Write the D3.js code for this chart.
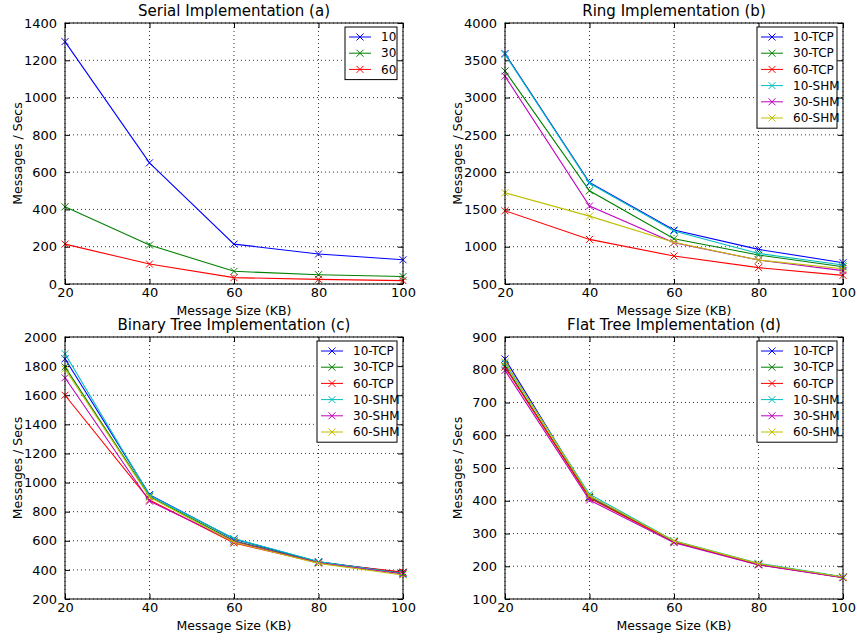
<!DOCTYPE html>
<html lang="en">
<head>
<meta charset="UTF-8">
<title>Implementations</title>
<script src="https://d3js.org/d3.v7.min.js"></script>
<style>
  body { margin: 0; background: #fff; }
  svg text { font-family: "DejaVu Sans", sans-serif; fill: #000; }
</style>
</head>
<body>
<svg id="chart" width="857" height="643"></svg>
<script>
// data
const messageSizes = [20, 40, 60, 80, 100];

const serialNames = ["10", "30", "60"];
const serialValues = [
  [1300, 650, 214, 161, 130],
  [414, 209, 68, 50, 40],
  [214, 107, 34, 25, 18]
];

const implNames = ["10-TCP", "30-TCP", "60-TCP", "10-SHM", "30-SHM", "60-SHM"];

const ringValues = [
  [3590, 1862, 1223, 964, 786],
  [3357, 1750, 1107, 888, 732],
  [1482, 1098, 875, 719, 616],
  [3580, 1850, 1210, 910, 755],
  [3286, 1545, 1054, 821, 679],
  [1723, 1410, 1060, 821, 705]
];

const binaryValues = [
  [1850, 917, 612, 455, 380],
  [1795, 905, 600, 452, 378],
  [1600, 880, 585, 450, 385],
  [1885, 912, 615, 457, 375],
  [1720, 872, 595, 448, 372],
  [1780, 900, 590, 445, 365]
];

const flatValues = [
  [833, 413, 276, 207, 167],
  [812, 410, 274, 206, 166],
  [808, 408, 275, 205, 166],
  [820, 420, 278, 209, 168],
  [798, 402, 272, 204, 165],
  [824, 415, 277, 208, 167]
];

const xTicks = [20, 40, 60, 80, 100];
const serialTicks = [0, 200, 400, 600, 800, 1000, 1200, 1400];
const ringTicks = [500, 1000, 1500, 2000, 2500, 3000, 3500, 4000];
const binaryTicks = [200, 400, 600, 800, 1000, 1200, 1400, 1600, 1800, 2000];
const flatTicks = [100, 200, 300, 400, 500, 600, 700, 800, 900];

const colors = ["#0000ff", "#008000", "#ff0000", "#00bfbf", "#bf00bf", "#bfbf00"];

const svg = d3.select("#chart");

function drawPanel(opt) {
  const { left, right, top, bottom } = opt.box;
  const x = d3.scaleLinear().domain([20, 100]).range([left, right]);
  const y = d3.scaleLinear().domain(d3.extent(opt.yTicks)).range([bottom, top]);
  const g = svg.append("g");

  // grid
  g.selectAll(".gx").data(xTicks).enter().append("line")
    .attr("x1", d => x(d)).attr("x2", d => x(d))
    .attr("y1", top).attr("y2", bottom)
    .attr("stroke", "#000").attr("stroke-width", 0.8).attr("stroke-dasharray", "1,3");
  g.selectAll(".gy").data(opt.yTicks).enter().append("line")
    .attr("x1", left).attr("x2", right)
    .attr("y1", d => y(d)).attr("y2", d => y(d))
    .attr("stroke", "#000").attr("stroke-width", 0.8).attr("stroke-dasharray", "1,3");

  // axes, ticks inward on every side
  const tl = 5, fmt = d3.format("d");
  g.append("g").attr("transform", `translate(0,${bottom})`)
    .call(d3.axisBottom(x).tickValues(xTicks).tickFormat(fmt).tickSizeInner(-tl).tickSizeOuter(0).tickPadding(4));
  g.append("g").attr("transform", `translate(0,${top})`)
    .call(d3.axisTop(x).tickValues(xTicks).tickSizeInner(-tl).tickSizeOuter(0).tickFormat(""));
  g.append("g").attr("transform", `translate(${left},0)`)
    .call(d3.axisLeft(y).tickValues(opt.yTicks).tickFormat(fmt).tickSizeInner(-tl).tickSizeOuter(0).tickPadding(8));
  g.append("g").attr("transform", `translate(${right},0)`)
    .call(d3.axisRight(y).tickValues(opt.yTicks).tickSizeInner(-tl).tickSizeOuter(0).tickFormat(""));
  g.selectAll(".domain").remove();
  g.selectAll(".tick line").attr("stroke", "#000");
  g.selectAll(".tick text").attr("font-size", 13).attr("font-family", "DejaVu Sans").attr("fill", "#000");

  // lines
  const line = d3.line().x((d, i) => x(messageSizes[i])).y(d => y(d));
  opt.values.forEach((vals, s) => {
    g.append("path").attr("d", line(vals))
      .attr("fill", "none").attr("stroke", colors[s]).attr("stroke-width", 1.1);
    g.selectAll(null).data(vals).enter().append("path")
      .attr("transform", (d, i) => `translate(${x(messageSizes[i])},${y(d)})`)
      .attr("d", "M-3.5,-3.5L3.5,3.5M-3.5,3.5L3.5,-3.5")
      .attr("stroke", colors[s]).attr("stroke-width", 1);
  });

  // frame
  g.append("rect").attr("x", left).attr("y", top)
    .attr("width", right - left).attr("height", bottom - top)
    .attr("fill", "none").attr("stroke", "#000").attr("stroke-width", 1);

  // title and labels
  g.append("text").attr("x", (left + right) / 2).attr("y", top - 7)
    .attr("text-anchor", "middle").attr("font-size", 15).text(opt.title);
  g.append("text").attr("x", (left + right) / 2).attr("y", bottom + 30.5)
    .attr("text-anchor", "middle").attr("font-size", 12.5).text("Message Size (KB)");
  const ly = left - 47, cy = (top + bottom) / 2;
  g.append("text").attr("transform", `translate(${ly},${cy}) rotate(-90)`)
    .attr("text-anchor", "middle").attr("dy", "0.35em").attr("font-size", 12.5).text("Messages / Secs");

  // legend
  const lw = opt.legendWidth, lh = opt.names.length * 16.2 + 4;
  const lx = right - 6 - lw, lyTop = top + 4;
  const leg = g.append("g");
  leg.append("rect").attr("x", lx).attr("y", lyTop).attr("width", lw).attr("height", lh)
    .attr("fill", "#fff").attr("stroke", "#000").attr("stroke-width", 1);
  opt.names.forEach((name, i) => {
    const ry = lyTop + 10 + i * 16.2;
    leg.append("line").attr("x1", lx + 4).attr("x2", lx + 26).attr("y1", ry).attr("y2", ry)
      .attr("stroke", colors[i]).attr("stroke-width", 1);
    leg.append("path").attr("transform", `translate(${lx + 15},${ry})`)
      .attr("d", "M-3.5,-3.5L3.5,3.5M-3.5,3.5L3.5,-3.5")
      .attr("stroke", colors[i]).attr("stroke-width", 1);
    leg.append("text").attr("x", lx + 36).attr("y", ry).attr("dy", "0.35em")
      .attr("font-size", 12).text(name);
  });
}

drawPanel({ box: { left: 65, right: 403, top: 23, bottom: 284 }, yTicks: serialTicks,
  values: serialValues, names: serialNames, title: "Serial Implementation (a)", legendWidth: 52 });
drawPanel({ box: { left: 505, right: 843, top: 23, bottom: 284 }, yTicks: ringTicks,
  values: ringValues, names: implNames, title: "Ring Implementation (b)", legendWidth: 80 });
drawPanel({ box: { left: 65, right: 403, top: 337, bottom: 599 }, yTicks: binaryTicks,
  values: binaryValues, names: implNames, title: "Binary Tree Implementation (c)", legendWidth: 80 });
drawPanel({ box: { left: 505, right: 843, top: 337, bottom: 599 }, yTicks: flatTicks,
  values: flatValues, names: implNames, title: "Flat Tree Implementation (d)", legendWidth: 80 });
</script>
</body>
</html>
